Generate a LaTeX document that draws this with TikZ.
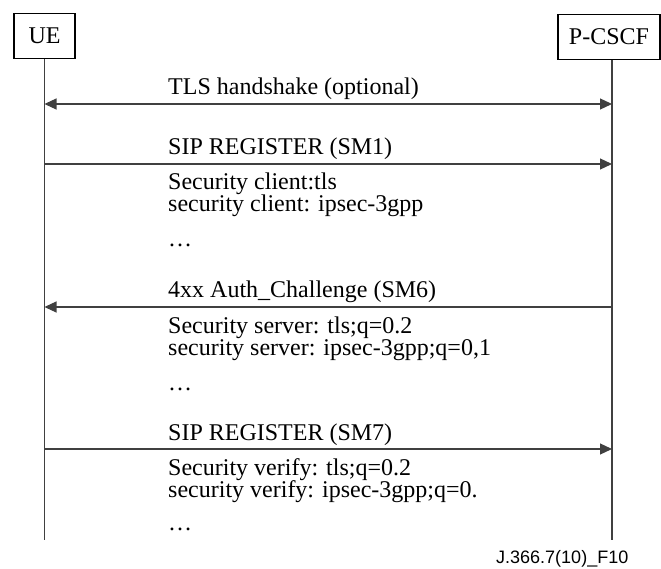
\documentclass[tikz,border=0pt]{standalone}
\usepackage{fontspec}
\setmainfont{Liberation Serif}
\newfontfamily\tagfont{Liberation Sans}
\usetikzlibrary{arrows.meta}

\begin{document}
\begin{tikzpicture}[x=1pt,y=-1pt,
    entity/.style={draw,line width=1.4pt,minimum height=45pt,inner sep=0pt,
      font=\fontsize{24}{22}\selectfont},
    life/.style={line width=1.2pt,black!75},
    msg/.style={line width=1.2pt,black!75,-{Triangle[length=12pt,width=11pt]}},
    both/.style={line width=1.2pt,black!75,
      {Triangle[length=12pt,width=11pt]}-{Triangle[length=12pt,width=11pt]}},
    txt/.style={anchor=base west,inner sep=0pt,font=\fontsize{24}{22}\selectfont}]
  \useasboundingbox (0,0) rectangle (661,569);

  % entities and life lines
  \node[entity,minimum width=61pt] (ue) at (44.5,36) {UE};
  \node[entity,minimum width=102pt] (pcscf) at (609,37) {P-CSCF};
  \coordinate (ue-end) at (44.5,540);
  \coordinate (pcscf-end) at (612,540);
  \draw[life] (ue.south) -- (ue-end);
  \draw[life] (pcscf.south -| pcscf-end) -- (pcscf-end);

  % end points of the messages
  \foreach \name/\y in {tls/104,sma/164,smb/307,smc/449}{
    \coordinate (ue-\name) at (ue-end |- 0,\y);
    \coordinate (pc-\name) at (pcscf-end |- 0,\y);
  }

  % messages
  \draw[both] (ue-tls) -- (pc-tls);
  \draw[msg] (ue-sma) -- (pc-sma);
  \draw[msg] (pc-smb) -- (ue-smb);
  \draw[msg] (ue-smc) -- (pc-smc);

  % labels
  \node[txt] (l-tls) at (168,95) {TLS handshake (optional)};
  \node[txt] (l-sma) at (168,155) {SIP REGISTER (SM1)};
  \node[txt] (a1) at (168,190) {Security client:tls};
  \node[txt] (a2) at (168,212) {security client: ipsec-3gpp};
  \node[txt] (a3) at (168,247) {\dots};
  \node[txt] (l-smb) at (168,298) {4xx Auth\_Challenge (SM6)};
  \node[txt] (b1) at (168,333) {Security server: tls;q=0.2};
  \node[txt] (b2) at (168,355) {security server: ipsec-3gpp;q=0,1};
  \node[txt] (b3) at (168,390) {\dots};
  \node[txt] (l-smc) at (168,440) {SIP REGISTER (SM7)};
  \node[txt] (c1) at (168,475) {Security verify: tls;q=0.2};
  \node[txt] (c2) at (168,497) {security verify: ipsec-3gpp;q=0.};
  \node[txt] (c3) at (168,530) {\dots};

  \node[anchor=base west,inner sep=0pt,font=\tagfont\fontsize{18}{18}\selectfont]
    (fig) at (496,563) {J.366.7(10)\_F10};
\end{tikzpicture}
\end{document}
